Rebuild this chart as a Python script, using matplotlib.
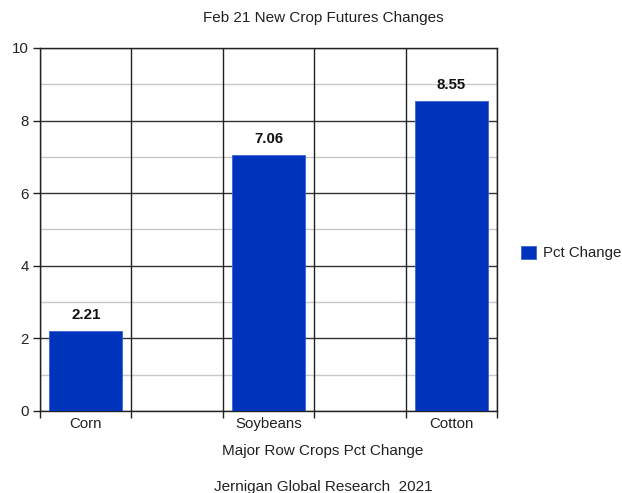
import matplotlib
matplotlib.use("Agg")
import matplotlib.pyplot as plt
from matplotlib.patches import Patch
from matplotlib.ticker import MultipleLocator

plt.rcParams['font.family'] = ['Liberation Sans', 'DejaVu Sans']

categories = ["Corn", "Soybeans", "Cotton"]
pct_change = [2.21, 7.06, 8.55]
series_name = "Pct Change"
title = "Feb 21 New Crop Futures Changes"
x_title = "Major Row Crops Pct Change"
footer = "Jernigan Global Research  2021"

bar_color = "#0033bb"
text_color = "#222222"

fig = plt.figure(figsize=(6.22, 4.93), dpi=100)
ax = fig.add_axes([40/622, 82/493, 457/622, 363/493])

x = list(range(len(categories)))
ax.bar(x, pct_change, width=0.4, color=bar_color, edgecolor="#3a63d6",
       linewidth=0.6, zorder=3)
for xi, v in zip(x, pct_change):
    ax.text(xi, v + 0.25, f"{v:.2f}", ha="center", va="bottom",
            fontsize=10.8, fontweight="bold", color="#111111", zorder=4)

ax.yaxis.set_major_locator(MultipleLocator(2))
ax.yaxis.set_minor_locator(MultipleLocator(1))
ax.grid(which="major", axis="y", color="#333333", linewidth=1.0, zorder=1)
ax.grid(which="minor", axis="y", color="#c8c8c8", linewidth=1.0, zorder=1)

# vertical grid at half-category boundaries, with ticks below the axis
vlines = [i * 0.5 - 0.25 for i in range(2 * len(categories))]
for v in vlines:
    ax.axvline(v, color="#222222", linewidth=1.0, zorder=2)
ax.set_xticks(vlines, minor=True)
ax.set_xticks(x)
ax.set_xticklabels(categories)
ax.set_xlim(-0.25, len(categories) - 0.75)
ax.set_ylim(0, 10)

ax.tick_params(axis="x", which="major", length=0, pad=4, labelsize=10.8,
               labelcolor=text_color)
ax.tick_params(axis="x", which="minor", length=5, width=1.0, color="#222222")
ax.tick_params(axis="y", which="major", length=5, width=1.0, color="#222222",
               labelsize=10.8, labelcolor=text_color, pad=3)
ax.tick_params(axis="y", which="minor", length=0)

for s in ax.spines.values():
    s.set_color("#222222")
    s.set_linewidth(1.0)

cx = 323 / 622
fig.text(cx, 1 - 18/493, title, ha="center", va="center",
         fontsize=11, color=text_color)
fig.text(cx, 1 - 451/493, x_title, ha="center", va="center",
         fontsize=11, color=text_color)
fig.text(cx, 1 - 487/493, footer, ha="center", va="center",
         fontsize=11, color=text_color)

handle = Patch(facecolor=bar_color, edgecolor="#3a63d6", linewidth=0.6)
fig.legend([handle], [series_name], loc="center left",
           bbox_to_anchor=(507/622, 1 - 253/493), frameon=False,
           fontsize=10.8, handlelength=1.0, handleheight=1.0,
           handletextpad=0.5, labelcolor=text_color)

fig.savefig("out.png", dpi=100)
